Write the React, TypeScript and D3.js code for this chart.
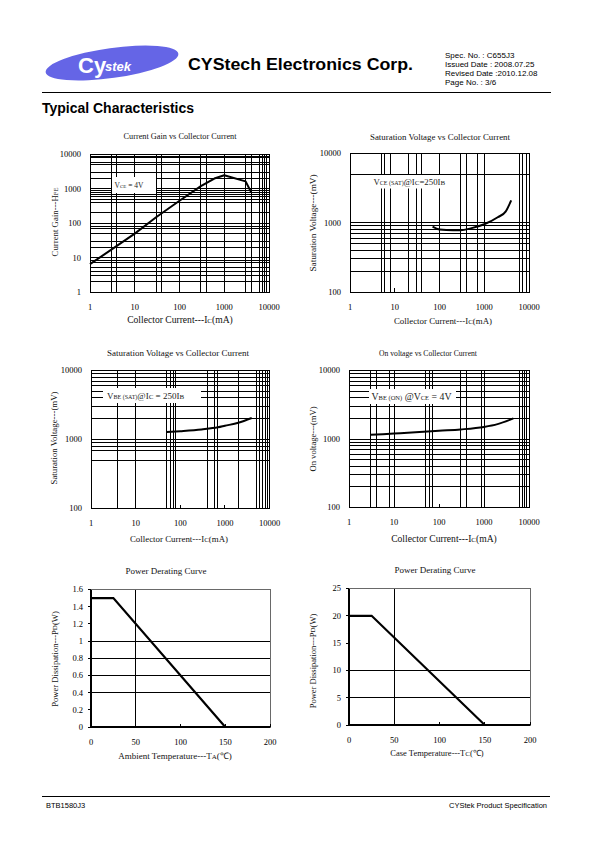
import React from 'react';
import * as d3 from 'd3';

const SERIF = '"Liberation Serif","Times New Roman",serif';
const SANS = '"Liberation Sans",Arial,sans-serif';

// ---------------- data ----------------
// Current gain vs collector current (VCE = 4V)
const gainIc = [1, 3, 10, 30, 100, 300, 600, 1000, 3000, 4000];
const gainHfe = [6.5, 17, 50, 150, 450, 1200, 2000, 2500, 1650, 800];
// VCE(SAT) vs IC
const vcesatIc = [70, 100, 200, 300, 500, 1000, 2000, 3000, 4000];
const vcesatMv = [880, 800, 780, 780, 830, 950, 1200, 1450, 2100];
// VBE(SAT) vs IC
const vbesatIc = [50, 100, 300, 700, 1000, 2000, 4000];
const vbesatMv = [1280, 1320, 1400, 1500, 1580, 1750, 2050];
// VBE(ON) vs IC
const vbeonIc = [3, 10, 30, 100, 300, 1000, 2000, 4500];
const vbeonMv = [1150, 1200, 1250, 1320, 1380, 1500, 1650, 2000];
// Power derating
const taTemp = [0, 25, 150];
const taPd = [1.5, 1.5, 0];
const tcTemp = [0, 25, 150];
const tcPd = [20, 20, 0];

// ticks
const currentTicks = [1, 10, 100, 1000, 10000];
const gainTicks = [1, 10, 100, 1000, 10000];
const mvTicks = [100, 1000, 10000];
const tempTicks = [0, 50, 100, 150, 200];
const pdATicks = [0, 0.2, 0.4, 0.6, 0.8, 1, 1.2, 1.4, 1.6];
const pdCTicks = [0, 5, 10, 15, 20, 25];

// grid lines
const gainVGrid = [3, 4, 10, 30, 40, 100, 300, 400, 1000, 3000, 4000, 6000, 7000, 8000, 9000];
const gainHGrid = [2, 3, 4, 5, 7, 8, 10, 20, 30, 50, 70, 80, 100, 200, 400, 500, 600, 700, 800, 900, 1000, 2000, 3000, 5000, 6000, 8000, 9000];
const vcesatVGrid = [5, 6, 8, 20, 30, 40, 100, 300, 400, 700, 1000, 6000, 7000, 9000];
const vcesatHGrid = [200, 300, 400, 500, 600, 700, 800, 900, 1000, 5000];
const vbesatVGrid = [4, 10, 50, 60, 70, 80, 400, 600, 700, 2000, 5000, 6000, 7000, 8000, 9000];
const vbesatHGrid = [500, 700, 800, 900, 1000, 2000, 3000, 4000, 5000, 6000, 7000, 8000, 9000];
const vbeonVGrid = [3, 4, 8, 10, 50, 60, 70, 300, 400, 900, 1000, 6000, 7000, 8000, 9000];
const vbeonHGrid = [200, 300, 400, 500, 600, 700, 800, 900, 1000, 2000, 3000, 4000, 5000, 6000, 7000, 8000, 9000];
const taVGrid = [50];
const taHGrid = [0.4, 0.6, 0.8, 1];
const tcVGrid = [50];
const tcHGrid = [5, 10];

const headerInfo = ['Spec. No. : C655J3', 'Issued Date : 2008.07.25', 'Revised Date :2010.12.08', 'Page No. : 3/6'];

// ---------------- helpers ----------------
type Box = { x: number; y: number; w: number; h: number; tx: number; ty: number; fs: number };

function Sub({ children, size = 6 }: any) {
  return <tspan fontSize={size}>{children}</tspan>;
}

function LogChart(p: any) {
  const x = d3.scaleLog().domain([1, 10000]).range([p.x0, p.x1]);
  const y = d3.scaleLog().domain(p.yDomain).range([p.y1, p.y0]);
  const line = d3
    .line<number>()
    .x((_d, i) => x(p.xs[i]))
    .y((d) => y(d))
    .curve(p.curve);
  const b: Box = p.box;
  return (
    <g>
      {p.hGrid.map((v: number) => (
        <line key={'h' + v} x1={p.x0} x2={p.x1} y1={y(v)} y2={y(v)} stroke="#000" strokeWidth={1} shapeRendering="crispEdges" />
      ))}
      {p.vGrid.map((v: number) => (
        <line key={'v' + v} x1={x(v)} x2={x(v)} y1={p.y0} y2={p.y1} stroke="#000" strokeWidth={1} shapeRendering="crispEdges" />
      ))}
      <rect x={b.x} y={b.y} width={b.w} height={b.h} fill="#fff" />
      <rect x={p.x0} y={p.y0} width={p.x1 - p.x0} height={p.y1 - p.y0} fill="none" stroke="#000" strokeWidth={1} shapeRendering="crispEdges" />
      {currentTicks.map((v) => (
        <line key={'t' + v} x1={x(v)} x2={x(v)} y1={p.y1 - 4} y2={p.y1} stroke="#000" strokeWidth={1} shapeRendering="crispEdges" />
      ))}
      {currentTicks.map((v) => (
        <text key={'xl' + v} x={x(v)} y={p.y1 + 17.5} fontSize={8.5} fontFamily={SERIF} textAnchor="middle">
          {String(v)}
        </text>
      ))}
      {p.yTicks.map((v: number) => (
        <text key={'yl' + v} x={p.x0 - 9} y={y(v)} dy="0.35em" fontSize={8.5} fontFamily={SERIF} textAnchor="end">
          {String(v)}
        </text>
      ))}
      <path d={line(p.ys) || ''} fill="none" stroke="#000" strokeWidth={2} strokeLinejoin="round" />
      <text x={b.tx} y={b.ty} fontSize={b.fs} fontFamily={SERIF} fill="#222">
        {p.label}
      </text>
    </g>
  );
}

function LinChart(p: any) {
  const x = d3.scaleLinear().domain([0, 200]).range([p.x0, p.x1]);
  const y = d3.scaleLinear().domain(p.yDomain).range([p.y1, p.y0]);
  const line = d3
    .line<number>()
    .x((_d, i) => x(p.xs[i]))
    .y((d) => y(d));
  return (
    <g>
      {p.hGrid.map((v: number) => (
        <line key={'h' + v} x1={p.x0} x2={p.x1} y1={y(v)} y2={y(v)} stroke="#000" strokeWidth={1} shapeRendering="crispEdges" />
      ))}
      {p.vGrid.map((v: number) => (
        <line key={'v' + v} x1={x(v)} x2={x(v)} y1={p.y0} y2={p.y1} stroke="#000" strokeWidth={1} shapeRendering="crispEdges" />
      ))}
      <rect x={p.x0} y={p.y0} width={p.x1 - p.x0} height={p.y1 - p.y0} fill="none" stroke="#444" strokeWidth={0.8} shapeRendering="crispEdges" />
      <line x1={p.x0} x2={p.x1} y1={p.y1} y2={p.y1} stroke="#000" strokeWidth={1.2} shapeRendering="crispEdges" />
      <line x1={p.x0} x2={p.x0} y1={p.y0} y2={p.y1} stroke="#000" strokeWidth={1.2} shapeRendering="crispEdges" />
      {tempTicks.map((v) => (
        <line key={'t' + v} x1={x(v)} x2={x(v)} y1={p.y1 - 3} y2={p.y1} stroke="#000" strokeWidth={1} shapeRendering="crispEdges" />
      ))}
      {p.yTicks.map((v: number) => (
        <line key={'yt' + v} x1={p.x0 - 3} x2={p.x0} y1={y(v)} y2={y(v)} stroke="#000" strokeWidth={1} shapeRendering="crispEdges" />
      ))}
      {tempTicks.map((v) => (
        <text key={'xl' + v} x={x(v)} y={p.y1 + 17.5} fontSize={8.5} fontFamily={SERIF} textAnchor="middle">
          {String(v)}
        </text>
      ))}
      {p.yTicks.map((v: number) => (
        <text key={'yl' + v} x={p.x0 - 8} y={y(v)} dy="0.35em" fontSize={8.5} fontFamily={SERIF} textAnchor="end">
          {String(v)}
        </text>
      ))}
      <path d={line(p.ys) || ''} fill="none" stroke="#000" strokeWidth={2.2} strokeLinejoin="miter" />
    </g>
  );
}

function Label({ x, y, len, children, rot = false, size = 9 }: any) {
  return (
    <text
      x={x}
      y={y}
      fontSize={size}
      fontFamily={SERIF}
      textAnchor="middle"
      dominantBaseline={rot ? 'central' : undefined}
      textLength={len}
      lengthAdjust={len ? 'spacingAndGlyphs' : undefined}
      transform={rot ? `rotate(-90 ${x} ${y})` : undefined}
      fill="#111"
    >
      {children}
    </text>
  );
}

const icLabel = (
  <>
    Collector Current---I<Sub size={7}>C</Sub>(mA)
  </>
);

export default function App() {
  return (
    <svg width={595} height={842} style={{ position: 'absolute', left: 0, top: 0, background: '#fff' }}>
      <rect x={0} y={0} width={595} height={842} fill="#fff" />
      {/* header */}
      <ellipse cx={112} cy={63} rx={67} ry={15} fill="#6565e6" transform="rotate(-8 112 63)" />
      <text x={78} y={73} fontSize={22} fontWeight="bold" fontFamily={SANS} fill="#fff">
        Cy
      </text>
      <text x={105} y={71} fontSize={13} fontWeight="bold" fontStyle="italic" fontFamily={SANS} fill="#fff">
        stek
      </text>
      <text x={188} y={70} fontSize={17} fontWeight="bold" fontFamily={SANS} textLength={225} lengthAdjust="spacingAndGlyphs">
        CYStech Electronics Corp.
      </text>
      {headerInfo.map((s, i) => (
        <text key={s} x={445} y={58 + i * 9} fontSize={8} fontFamily={SANS}>
          {s}
        </text>
      ))}
      <line x1={42} x2={551} y1={92.5} y2={92.5} stroke="#000" strokeWidth={1.2} />
      <text x={42} y={113} fontSize={14} fontWeight="bold" fontFamily={SANS} textLength={152} lengthAdjust="spacingAndGlyphs">
        Typical Characteristics
      </text>

      {/* chart 1 */}
      <Label x={180} y={139} len={113}>Current Gain vs Collector Current</Label>
      <LogChart
        x0={90}
        x1={269}
        y0={154.5}
        y1={292}
        yDomain={[1, 10000]}
        yTicks={gainTicks}
        vGrid={gainVGrid}
        hGrid={gainHGrid}
        xs={gainIc}
        ys={gainHfe}
        curve={d3.curveLinear}
        box={{ x: 112, y: 177, w: 44, h: 16, tx: 114.5, ty: 187.5, fs: 7.5 }}
        label={
          <>
            V<Sub size={5}>CE</Sub> = 4V
          </>
        }
      />
      <Label x={180} y={323} size={9.6}>{icLabel}</Label>
      <Label x={55} y={222} size={8.8} rot>
        Current Gain---H<Sub size={6.5}>FE</Sub>
      </Label>

      {/* chart 2 */}
      <Label x={440} y={140} len={140}>Saturation Voltage vs Collector Current</Label>
      <LogChart
        x0={350}
        x1={529}
        y0={153.5}
        y1={292}
        yDomain={[100, 10000]}
        yTicks={mvTicks}
        vGrid={vcesatVGrid}
        hGrid={vcesatHGrid}
        xs={vcesatIc}
        ys={vcesatMv}
        curve={d3.curveMonotoneX}
        box={{ x: 371, y: 175, w: 79, h: 13.5, tx: 373.5, ty: 185, fs: 8.8 }}
        label={
          <>
            V<Sub size={6}>CE (SAT)</Sub>@I<Sub size={7}>C</Sub>=250I<Sub size={7}>B</Sub>
          </>
        }
      />
      <Label x={443} y={324} size={8.9}>{icLabel}</Label>
      <Label x={313} y={223} len={97} rot>
        Saturation Voltage---(mV)
      </Label>

      {/* chart 3 */}
      <Label x={178} y={356} len={142}>Saturation Voltage vs Collector Current</Label>
      <LogChart
        x0={91}
        x1={269.5}
        y0={370.5}
        y1={508.5}
        yDomain={[100, 10000]}
        yTicks={mvTicks}
        vGrid={vbesatVGrid}
        hGrid={vbesatHGrid}
        xs={vbesatIc}
        ys={vbesatMv}
        curve={d3.curveMonotoneX}
        box={{ x: 103, y: 388, w: 98, h: 15, tx: 107, ty: 398.5, fs: 9 }}
        label={
          <>
            V<Sub size={6}>BE (SAT)</Sub>@I<Sub size={7}>C</Sub> = 250I<Sub size={7}>B</Sub>
          </>
        }
      />
      <Label x={179} y={542} size={8.9}>{icLabel}</Label>
      <Label x={54} y={438} len={93} rot>
        Saturation Voltage---(mV)
      </Label>

      {/* chart 4 */}
      <Label x={428} y={356} len={98}>On voltage vs Collector Current</Label>
      <LogChart
        x0={349}
        x1={529}
        y0={370.5}
        y1={507.5}
        yDomain={[100, 10000]}
        yTicks={mvTicks}
        vGrid={vbeonVGrid}
        hGrid={vbeonHGrid}
        xs={vbeonIc}
        ys={vbeonMv}
        curve={d3.curveMonotoneX}
        box={{ x: 369, y: 389, w: 87, h: 15, tx: 371.5, ty: 400, fs: 9.8 }}
        label={
          <>
            V<Sub size={6.5}>BE (ON)</Sub> @V<Sub size={6.5}>CE</Sub> = 4V
          </>
        }
      />
      <Label x={444} y={542} size={9.6}>{icLabel}</Label>
      <Label x={313} y={439} len={65} rot>
        On voltage---(mV)
      </Label>

      {/* chart 5 */}
      <Label x={166} y={574} len={81}>Power Derating Curve</Label>
      <LinChart
        x0={91}
        x1={270}
        y0={589.5}
        y1={727}
        yDomain={[0, 1.6]}
        yTicks={pdATicks}
        vGrid={taVGrid}
        hGrid={taHGrid}
        xs={taTemp}
        ys={taPd}
      />
      <Label x={175} y={759} size={9}>
        Ambient Temperature---T<Sub size={7}>A</Sub>(℃)
      </Label>
      <Label x={55} y={659} size={8.6} rot>
        Power Dissipation---P<Sub size={7}>D</Sub>(W)
      </Label>

      {/* chart 6 */}
      <Label x={435} y={573} len={81}>Power Derating Curve</Label>
      <LinChart
        x0={349}
        x1={530}
        y0={588.5}
        y1={725}
        yDomain={[0, 25]}
        yTicks={pdCTicks}
        vGrid={tcVGrid}
        hGrid={tcHGrid}
        xs={tcTemp}
        ys={tcPd}
      />
      <Label x={437} y={756} size={8.5}>
        Case Temperature---T<Sub size={7}>C</Sub>(℃)
      </Label>
      <Label x={313} y={661} size={8.5} rot>
        Power Dissipation---P<Sub size={7}>D</Sub>(W)
      </Label>

      {/* footer */}
      <line x1={42} x2={550} y1={796.5} y2={796.5} stroke="#000" strokeWidth={1} />
      <text x={46} y={808} fontSize={7.5} fontFamily={SANS}>
        BTB1580J3
      </text>
      <text x={547} y={808} fontSize={7.5} fontFamily={SANS} textAnchor="end">
        CYStek Product Specification
      </text>
    </svg>
  );
}
